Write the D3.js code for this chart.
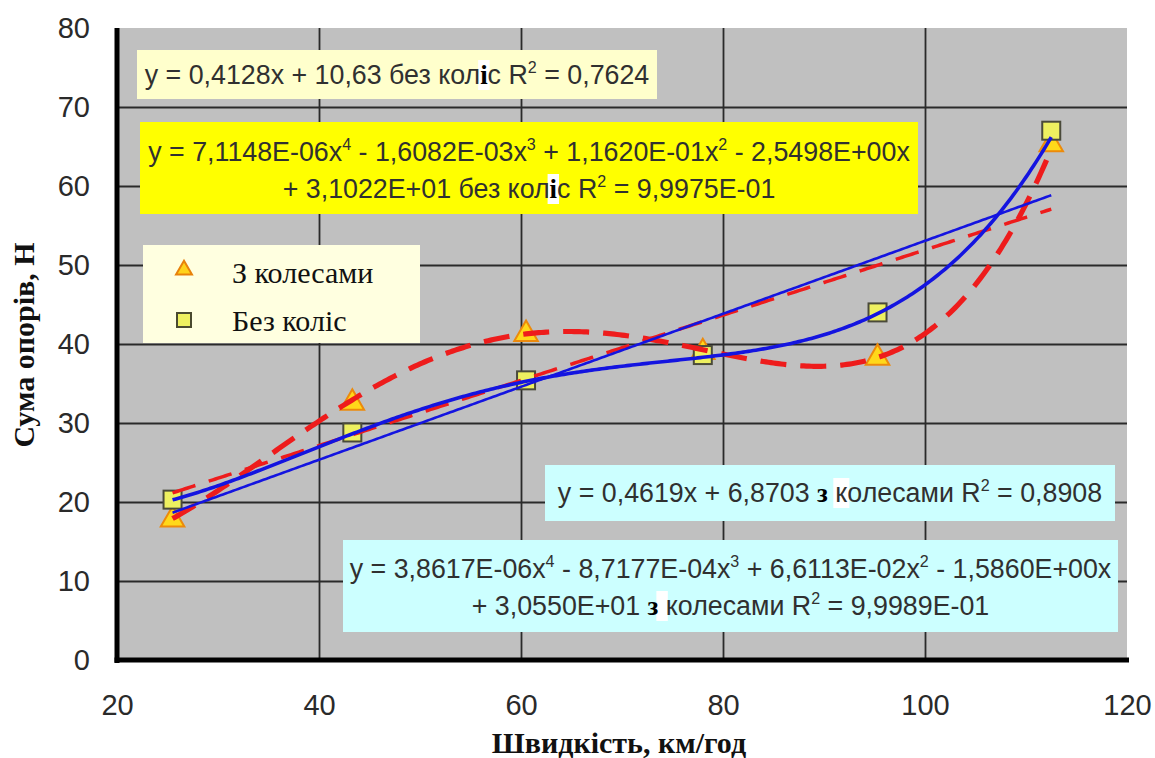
<!DOCTYPE html>
<html><head><meta charset="utf-8">
<script src="https://cdn.jsdelivr.net/npm/d3@7/dist/d3.min.js"></script>
<style>body{margin:0;background:#fff;overflow:hidden}</style>
</head><body><svg id="c" width="1155" height="758"></svg>
<script>
// ---- data ----
const speeds = [25.5, 43.3, 60.5, 78, 95.3, 112.5];
const withWheels = [18, 32.8, 41.5, 39.2, 38.5, 65.5];     // triangles
const withoutWheels = [20.3, 28.8, 35.4, 38.6, 44, 67];    // squares
const xTicks = [20, 40, 60, 80, 100, 120];
const yTicks = [0, 10, 20, 30, 40, 50, 60, 70, 80];
const legendLabels = ["З колесами", "Без коліс"];
const xTitle = "Швидкість, км/год";
const yTitle = "Сума опорів, Н";
// trendline coefficients as printed on the chart (ascending powers)
const linBez = [10.63, 0.4128];
const polyBez = [31.022, -2.5498, 0.11620, -1.6082e-3, 7.1148e-6];
const linZ = [6.8703, 0.4619];
const polyZ = [30.550, -1.5860, 6.6113e-2, -8.7177e-4, 3.8617e-6];
// equation labels: strings, {s:..} = superscript, {h:..} = highlighted glyph
const eqLinBez = [["y = 0,4128x + 10,63 без кол", {h:"і"}, "с R", {s:"2"}, " = 0,7624"]];
const eqPolyBez = [["y = 7,1148E-06x", {s:"4"}, " - 1,6082E-03x", {s:"3"}, " + 1,1620E-01x", {s:"2"}, " - 2,5498E+00x"],
                   ["+ 3,1022E+01 без кол", {h:"і"}, "с R", {s:"2"}, " = 9,9975E-01"]];
const eqLinZ = [["y = 0,4619x + 6,8703   ", {h:"з"}, " колесами R", {s:"2"}, " = 0,8908"]];
const eqPolyZ = [["y = 3,8617E-06x", {s:"4"}, " - 8,7177E-04x", {s:"3"}, " + 6,6113E-02x", {s:"2"}, " - 1,5860E+00x"],
                 ["+ 3,0550E+01  ", {h:"з"}, " колесами R", {s:"2"}, " = 9,9989E-01"]];

// ---- drawing ----
const svg = d3.select("#c");
const x = d3.scaleLinear().domain([20, 120]).range([117, 1127]);
const y = d3.scaleLinear().domain([0, 80]).range([660, 28]);
const W = x(120) - x(20), H = y(0) - y(80);

svg.append("rect").attr("x", x(20)).attr("y", y(80)).attr("width", W).attr("height", H).attr("fill", "#c0c0c0");

// gridlines
const gx = svg.append("g").attr("transform", `translate(0,${y(0)})`)
  .call(d3.axisBottom(x).tickValues(xTicks.filter(v => v > 20 && v < 120)).tickSize(-H).tickFormat(""));
gx.select(".domain").remove();
gx.selectAll("line").attr("stroke", "#2a2a2a").attr("stroke-width", 1.8);
const gy = svg.append("g").attr("transform", `translate(${x(20)},0)`)
  .call(d3.axisLeft(y).tickValues(yTicks.filter(v => v > 0 && v < 80)).tickSize(-W).tickFormat(""));
gy.select(".domain").remove();
gy.selectAll("line").attr("stroke", "#2a2a2a").attr("stroke-width", 1.8);

// tick labels
const ax = svg.append("g").attr("transform", `translate(0,${y(0)})`)
  .call(d3.axisBottom(x).tickValues(xTicks).tickSize(0).tickPadding(34));
ax.select(".domain").remove();
ax.selectAll("text").attr("font-family", "Liberation Sans, Arial, sans-serif").attr("font-size", 29).attr("fill", "#2a2a2a");
const ay = svg.append("g").attr("transform", `translate(${x(20)},0)`)
  .call(d3.axisLeft(y).tickValues(yTicks).tickSize(0).tickPadding(27));
ay.select(".domain").remove();
ay.selectAll("text").attr("font-family", "Liberation Sans, Arial, sans-serif").attr("font-size", 29).attr("fill", "#2a2a2a");

// axis lines
svg.append("line").attr("x1", x(20)).attr("x2", x(20)).attr("y1", y(80)).attr("y2", y(0) + 3)
  .attr("stroke", "#000").attr("stroke-width", 5);
svg.append("line").attr("x1", x(20) - 2.5).attr("x2", x(120) + 2).attr("y1", y(0)).attr("y2", y(0))
  .attr("stroke", "#000").attr("stroke-width", 5);

// axis titles
svg.append("text").attr("x", 619).attr("y", 753).attr("text-anchor", "middle")
  .attr("font-family", "Liberation Serif, Times New Roman, serif").attr("font-weight", "bold")
  .attr("font-size", 30).attr("fill", "#111").text(xTitle);
svg.append("text").attr("transform", "translate(34,345) rotate(-90)").attr("text-anchor", "middle")
  .attr("font-family", "Liberation Serif, Times New Roman, serif").attr("font-weight", "bold")
  .attr("font-size", 30).attr("fill", "#111").text(yTitle);

// equation boxes
function eqBox(rx, ry, rw, rh, fill, lines, baselines, fs) {
  const g = svg.append("g");
  g.append("rect").attr("x", rx).attr("y", ry).attr("width", rw).attr("height", rh).attr("fill", fill);
  const hlLayer = g.append("g");
  lines.forEach((parts, li) => {
    const t = g.append("text").attr("x", rx + rw / 2).attr("y", baselines[li]).attr("text-anchor", "middle")
      .attr("font-family", "Liberation Sans, Arial, sans-serif").attr("font-size", fs).attr("fill", "#303030");
    let shift = 0, idx = 0;
    const hls = [];
    parts.forEach(p => {
      const ts = t.append("tspan");
      if (typeof p === "string") {
        ts.text(p).attr("dy", -shift); shift = 0; idx += p.length;
      } else if (p.s) {
        ts.text(p.s).attr("font-size", fs * 0.6).attr("dy", -fs * 0.42 - shift); shift = -fs * 0.42; idx += p.s.length;
      } else if (p.h) {
        ts.text(p.h).attr("font-family", "Liberation Serif, Times New Roman, serif").attr("font-weight", "bold")
          .attr("fill", "#000").attr("dy", -shift); shift = 0; hls.push(idx); idx += p.h.length;
      }
    });
    hls.forEach(i => {
      const e = t.node().getExtentOfChar(i);
      hlLayer.append("rect").attr("x", e.x - 2).attr("y", e.y).attr("width", e.width + 4).attr("height", e.height)
        .attr("fill", "#fff");
    });
  });
}
eqBox(137, 50, 520, 49, "#ffffcc", eqLinBez, [84], 26.8);
eqBox(140, 122, 778, 92, "#ffff00", eqPolyBez, [161, 198], 26.8);
eqBox(545, 465, 570, 56, "#ccffff", eqLinZ, [502], 26.8);
eqBox(343, 540, 775, 92, "#ccffff", eqPolyZ, [578, 615], 26.8);

// legend
const lg = svg.append("g");
lg.append("rect").attr("x", 143).attr("y", 245).attr("width", 277).attr("height", 98).attr("fill", "#ffffe0");
const tri = d3.symbol().type(d3.symbolTriangle);
lg.append("path").attr("d", tri.size(110)()).attr("transform", "translate(184,270)")
  .attr("fill", "#ffd21a").attr("stroke", "#e8820a").attr("stroke-width", 2);
lg.append("rect").attr("x", 177).attr("y", 313).attr("width", 14).attr("height", 14)
  .attr("fill", "#eef060").attr("stroke", "#4a4a30").attr("stroke-width", 2);
legendLabels.forEach((l, i) => {
  lg.append("text").attr("x", 232).attr("y", 283 + i * 48).attr("font-family", "Liberation Serif, Times New Roman, serif")
    .attr("font-size", 30).attr("fill", "#111").text(l);
});

// markers
const pts = speeds.map((s, i) => ({s, a: withWheels[i], b: withoutWheels[i]}));
svg.append("g").selectAll("path").data(pts).join("path")
  .attr("d", d3.symbol().type(d3.symbolTriangle).size(240)())
  .attr("transform", d => `translate(${x(d.s)},${y(d.a) + 2})`)
  .attr("fill", "#ffd81a").attr("stroke", "#ec8a0c").attr("stroke-width", 2);
svg.append("g").selectAll("rect").data(pts).join("rect")
  .attr("x", d => x(d.s) - 9).attr("y", d => y(d.b) - 9).attr("width", 18).attr("height", 18)
  .attr("fill", "#eef060").attr("stroke", "#4a4a3a").attr("stroke-width", 2);

// trendlines from the printed equations
const poly = c => v => c.reduce((acc, k, i) => acc + k * Math.pow(v, i), 0);
const xs = d3.range(speeds[0], speeds[speeds.length - 1] + 0.001, 0.25);
const line = d3.line().x(d => x(d[0])).y(d => y(d[1])).curve(d3.curveLinear);
function trend(coefs, color, width, dash) {
  const f = poly(coefs);
  svg.append("path").attr("d", line(xs.map(v => [v, f(v)]))).attr("fill", "none")
    .attr("stroke", color).attr("stroke-width", width).attr("stroke-dasharray", dash || null)
    .attr("stroke-linejoin", "round");
}
trend(linBez, "#ee1c1c", 3.5, "24,14");
trend(polyBez, "#ee1c1c", 5.2, "26,14");
trend(linZ, "#1414e0", 2.6);
trend(polyZ, "#1414e0", 3.6);
</script></body></html>
